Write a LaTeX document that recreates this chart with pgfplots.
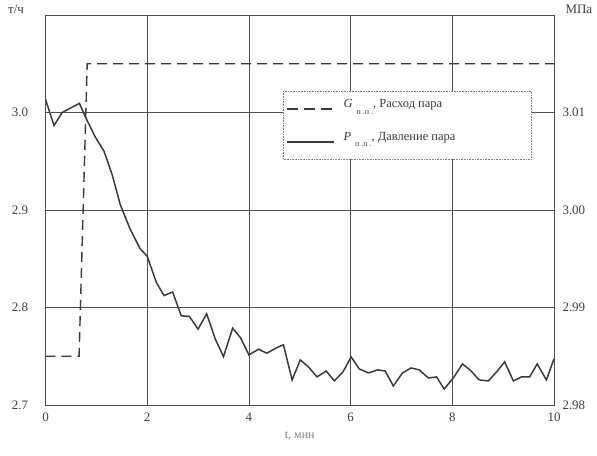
\documentclass[border=0pt]{standalone}
\usepackage{fontspec}
\setmainfont{Liberation Serif}
\usepackage{pgfplots}
\pgfplotsset{compat=1.18}
\definecolor{ink}{HTML}{3A3A3A}
\definecolor{gridc}{HTML}{505050}
\definecolor{lbl}{HTML}{404040}

\begin{document}
\begin{tikzpicture}
\pgfplotsset{
 every axis/.append style={
  width=508.5bp, height=390bp, scale only axis,
  xmin=0, xmax=10,
  /pgf/number format/assume math mode=true,
  tick label style={font=\fontsize{13}{15}\selectfont, text=lbl},
  major tick length=0pt,
  clip mode=individual,
 }
}
\useasboundingbox (-45.5bp,-51bp) rectangle (551.5bp,405bp);
\begin{axis}[
  ymin=2.7, ymax=3.1,
  xtick={0,2,4,6,8,10},
  ytick={2.7,2.8,2.9,3.0,3.1},
  yticklabels={2.7,2.8,2.9,3.0,},
  xticklabels={0,2,4,6,8,10},
  grid=major,
  grid style={gridc, line width=0.8pt},
  axis line style={gridc, line width=0.8pt},
  yticklabel style={xshift=-14bp},
  xticklabel style={yshift=-4bp},
  xlabel={t, мин},
  xlabel style={font=\fontsize{12}{14}\selectfont, text=gray, yshift=-4bp},
]
\addplot[ink, line width=1.4pt, dash pattern=on 10bp off 6bp] coordinates {
 (0,2.75) (0.66,2.75) (0.82,3.05) (10,3.05)
};
\node[anchor=east, font=\fontsize{13}{15}\selectfont, text=lbl] at (rel axis cs:0,1) [xshift=-18bp, yshift=6bp] {т/ч};
\node[anchor=west, font=\fontsize{13}{15}\selectfont, text=lbl] at (rel axis cs:1,1) [xshift=8bp, yshift=6bp] {МПа};
\end{axis}
\begin{axis}[
  ymin=2.98, ymax=3.02,
  axis y line*=right,
  hide x axis,
  ytick={2.98,2.99,3.00,3.01},
  yticklabels={2.98,2.99,3.00,3.01},
  yticklabel style={xshift=5bp},
  axis line style={gridc, line width=0.8pt},
  legend cell align=left,
  legend style={at={(0.467,0.805)}, anchor=north west, draw=none, fill=none,
    font=\fontsize{12.5}{14}\selectfont, text=ink, row sep=19bp,
    inner xsep=3bp, inner ysep=6bp},
]
\filldraw[fill=white, draw=gray, densely dotted, line width=0.6pt]
  (rel axis cs:0.467,0.805) rectangle (rel axis cs:0.955,0.631);
\addlegendimage{legend image code/.code={\draw[ink, line width=1.4pt, dash pattern=on 11bp off 6bp] (0bp,-5bp) -- (49bp,-5bp);}}
\addlegendentry{\hspace*{5bp}\textit{G}\hspace{4bp}\raisebox{-1.2ex}{\footnotesize п\hspace{2bp}.п\hspace{2bp}.}, Расход пара}
\addplot[ink, line width=1.5pt, solid,
  legend image code/.code={\draw[ink, line width=1.5pt, solid] (0bp,-5bp) -- (47bp,-5bp);}] coordinates {
 (0,3.01135) (0.167,3.00867) (0.33,3.01001) (0.667,3.01094) (0.78,3.0096)
 (0.97,3.00757) (1.15,3.00603) (1.31,3.00364) (1.47,3.00056) (1.66,2.99809)
 (1.86,2.99603) (2.0,2.99526) (2.18,2.99257) (2.33,2.99123) (2.5,2.99158)
 (2.67,2.98915) (2.83,2.98908) (3.0,2.98778) (3.17,2.98935) (3.34,2.98675)
 (3.5,2.98496) (3.68,2.98788) (3.84,2.98686) (4.0,2.98514) (4.19,2.98572)
 (4.35,2.98531) (4.58,2.98596) (4.68,2.98617) (4.85,2.98257) (5.01,2.98462)
 (5.17,2.98391) (5.34,2.98288) (5.52,2.98349) (5.68,2.98247) (5.85,2.98339)
 (6.01,2.98493) (6.17,2.98370) (6.35,2.98329) (6.53,2.98360) (6.68,2.98349)
 (6.84,2.98195) (7.02,2.98329) (7.19,2.98380) (7.35,2.98360) (7.53,2.98277)
 (7.69,2.98288) (7.84,2.98164) (8.02,2.98277) (8.2,2.98421) (8.35,2.98360)
 (8.53,2.98257) (8.71,2.98247) (8.87,2.98339) (9.03,2.98442) (9.2,2.98247)
 (9.36,2.98288) (9.52,2.98288) (9.67,2.98421) (9.85,2.98257) (10,2.98473)
};
\addlegendentry{\hspace*{5bp}\textit{P}\hspace{4bp}\raisebox{-1.2ex}{\footnotesize п\hspace{2bp}.п\hspace{2bp}.}, Давление пара}
\end{axis}
\end{tikzpicture}
\end{document}
